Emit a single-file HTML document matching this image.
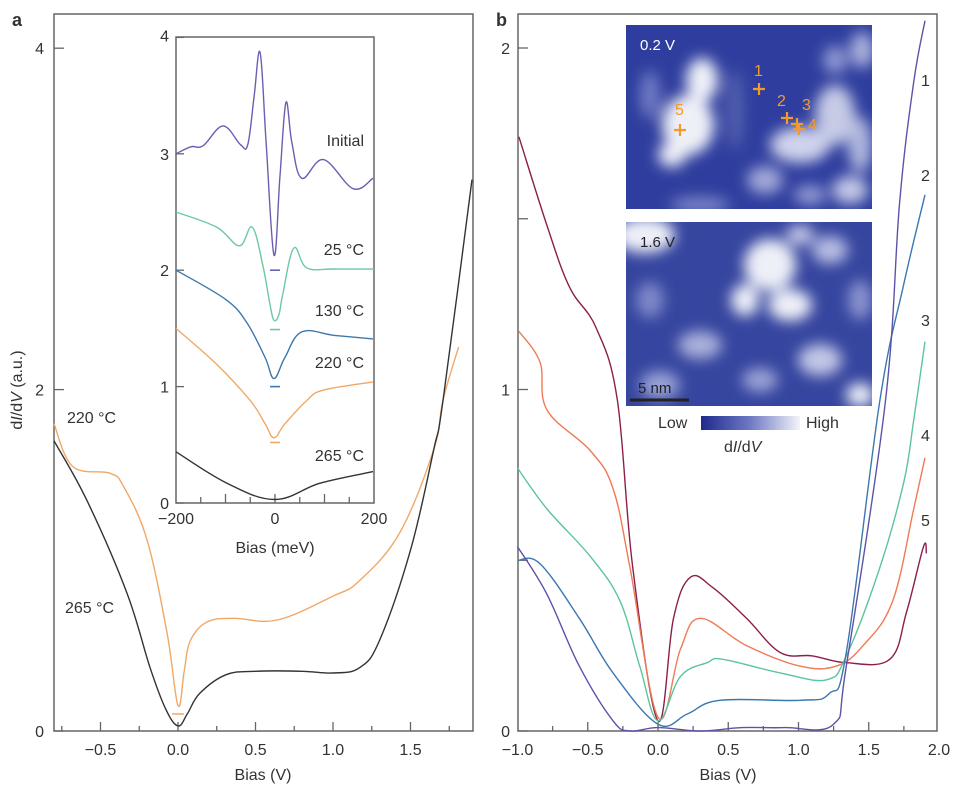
<!DOCTYPE html>
<html><head><meta charset="utf-8"><style>
body{margin:0;background:#fff}
svg text{font-family:"Liberation Sans",sans-serif;fill:#333}
</style></head><body>
<svg id="fig" width="960" height="801" viewBox="0 0 960 801">
<defs>
<filter id="bl" x="-50%" y="-50%" width="200%" height="200%"><feGaussianBlur stdDeviation="7"/></filter>
<linearGradient id="cb" x1="0" x2="1"><stop offset="0" stop-color="#1f2a8c"/><stop offset="0.5" stop-color="#6f7ac4"/><stop offset="1" stop-color="#f4f4fa"/></linearGradient>
<clipPath id="m1"><rect x="626" y="25" width="246" height="184"/></clipPath>
<clipPath id="m2"><rect x="626" y="222" width="246" height="184"/></clipPath>
</defs>
<text x="12" y="26" font-size="18" font-weight="bold">a</text>
<text x="496" y="26" font-size="18" font-weight="bold">b</text>
<g id="ga"></g><g id="gi"></g><g id="gb"></g>
<g clip-path="url(#m1)">
<rect x="626" y="25" width="246" height="184" fill="#2f3e9e"/>
<g filter="url(#bl)" fill="#eef0f8">
<ellipse cx="688" cy="125" rx="26" ry="30"/><ellipse cx="702" cy="80" rx="16" ry="22"/><ellipse cx="672" cy="155" rx="14" ry="12"/>
<ellipse cx="650" cy="95" rx="10" ry="24" fill="#6f7bc4"/>
<ellipse cx="800" cy="145" rx="30" ry="18" fill="#cfd3ec"/><ellipse cx="835" cy="115" rx="20" ry="30" fill="#c6cbe6"/><ellipse cx="860" cy="145" rx="12" ry="28" fill="#b0b7de"/>
<ellipse cx="862" cy="50" rx="12" ry="18" fill="#aab1dc"/><ellipse cx="835" cy="60" rx="12" ry="14" fill="#8f98d2"/>
<ellipse cx="765" cy="180" rx="18" ry="14" fill="#a0a8d8"/><ellipse cx="810" cy="195" rx="16" ry="10" fill="#8f98d2"/><ellipse cx="700" cy="205" rx="30" ry="8" fill="#7d87c9"/>
<ellipse cx="735" cy="110" rx="8" ry="40" fill="#5462b0"/><ellipse cx="850" cy="190" rx="18" ry="14" fill="#c2c7e6"/>
</g></g>
<g clip-path="url(#m2)">
<rect x="626" y="222" width="246" height="184" fill="#36459f"/>
<g filter="url(#bl)" fill="#eef0f8">
<ellipse cx="645" cy="235" rx="30" ry="18"/><ellipse cx="770" cy="265" rx="26" ry="26"/><ellipse cx="790" cy="305" rx="22" ry="16"/>
<ellipse cx="745" cy="300" rx="14" ry="16"/><ellipse cx="830" cy="250" rx="18" ry="14" fill="#b7bde2"/><ellipse cx="800" cy="235" rx="14" ry="10" fill="#c7cbe8"/>
<ellipse cx="700" cy="345" rx="22" ry="14" fill="#aab1dc"/><ellipse cx="820" cy="360" rx="22" ry="16" fill="#c2c7e6"/>
<ellipse cx="660" cy="385" rx="20" ry="14" fill="#9aa2d6"/><ellipse cx="860" cy="395" rx="14" ry="12"/><ellipse cx="760" cy="380" rx="18" ry="12" fill="#9aa2d6"/>
<ellipse cx="650" cy="300" rx="14" ry="18" fill="#7e88c9"/><ellipse cx="860" cy="300" rx="12" ry="20" fill="#8a93cf"/>
</g></g>
<text x="640" y="50" font-size="15" style="fill:#fff">0.2 V</text>
<text x="640" y="247" font-size="15" style="fill:#222">1.6 V</text>
<line x1="630" y1="400" x2="689" y2="400" stroke="#222" stroke-width="3"/>
<text x="638" y="393" font-size="15" style="fill:#222">5 nm</text>
<g id="marks"></g>
<rect x="701" y="416" width="99" height="14" fill="url(#cb)"/>
<text x="658" y="428" font-size="16">Low</text>
<text x="806" y="428" font-size="16">High</text>
<text x="724" y="452" font-size="16">d<tspan font-style="italic">I</tspan>/d<tspan font-style="italic">V</tspan></text>
<text transform="translate(22,390) rotate(-90)" text-anchor="middle" font-size="16">d<tspan font-style="italic">I</tspan>/d<tspan font-style="italic">V</tspan> (a.u.)</text>
</svg>
<script>
// ---- Panel a data ----
const aBlackV=[-0.8,-0.587,-0.33,-0.18,-0.08,0,0.06,0.14,0.31,0.5,0.8,1.0,1.17,1.30,1.50,1.65,1.71,1.897];
const aBlackY=[1.70,1.35,0.81,0.37,0.13,0.03,0.10,0.22,0.33,0.35,0.35,0.34,0.37,0.53,1.06,1.65,1.94,3.23];
const aOrangeV=[-0.8,-0.68,-0.44,-0.35,-0.2,-0.07,0,0.04,0.08,0.19,0.36,0.64,1.0,1.17,1.43,1.65,1.71,1.81];
const aOrangeY=[1.80,1.55,1.51,1.43,1.12,0.57,0.15,0.35,0.53,0.64,0.66,0.65,0.79,0.88,1.16,1.65,1.94,2.25];
// ---- Inset data (mV) ----
const iInitX=[-200,-170,-145,-105,-70,-55,-42,-30,-18,-2,10,22,34,54,98,158,198];
const iInitY=[3.0,3.06,3.07,3.24,3.08,3.08,3.5,3.87,3.1,2.13,2.8,3.44,3.1,2.79,2.95,2.70,2.79];
const i25X=[-200,-118,-72,-46,-24,-10,-2,8,16,38,64,120,200];
const i25Y=[2.50,2.37,2.21,2.37,2.03,1.7,1.57,1.62,1.80,2.19,2.02,2.01,2.01];
const i130X=[-200,-100,-57,-20,-2,20,54,120,198];
const i130Y=[2.0,1.75,1.55,1.25,1.07,1.25,1.47,1.44,1.41];
const i220X=[-200,-120,-50,-20,-2,20,64,98,198];
const i220Y=[1.50,1.2,0.88,0.68,0.56,0.68,0.88,0.97,1.04];
const i265X=[-200,-97,0,91,198];
const i265Y=[0.44,0.17,0.03,0.17,0.27];
const iMarkY=[2.0,1.49,1.0,0.52];
// ---- Panel b data ----
const b1V=[-1,-0.79,-0.56,-0.32,-0.2,0,0.3,0.6,0.9,1.25,1.34,1.62,1.72,1.82,1.90];
const b1Y=[0.54,0.40,0.19,0.03,0.0,0.01,0.0,0.01,0.01,0.02,0.19,0.97,1.55,1.90,2.08];
const b2V=[-1,-0.84,-0.56,-0.32,0,0.21,0.44,1.01,1.22,1.34,1.58,1.75,1.90];
const b2Y=[0.50,0.49,0.33,0.17,0.02,0.05,0.09,0.09,0.11,0.23,0.97,1.31,1.57];
const b3V=[-1,-0.79,-0.48,-0.27,-0.13,0,0.16,0.35,0.46,0.87,1.2,1.34,1.58,1.75,1.82,1.90];
const b3Y=[0.77,0.65,0.51,0.38,0.19,0.03,0.16,0.20,0.21,0.17,0.15,0.22,0.48,0.73,0.91,1.14];
const b4V=[-0.99,-0.84,-0.79,-0.48,-0.32,-0.2,0,0.16,0.3,0.63,1.01,1.27,1.46,1.67,1.82,1.90];
const b4Y=[1.17,1.08,0.94,0.82,0.71,0.48,0.04,0.24,0.33,0.25,0.19,0.19,0.25,0.38,0.65,0.80];
const b5V=[-0.99,-0.79,-0.63,-0.44,-0.29,-0.18,0,0.11,0.23,0.39,0.63,0.87,1.1,1.34,1.65,1.77,1.89,1.91];
const b5Y=[1.74,1.48,1.30,1.18,0.97,0.48,0.03,0.33,0.45,0.42,0.33,0.23,0.22,0.20,0.21,0.35,0.54,0.52];
const aXTicks=[-0.5,0.0,0.5,1.0,1.5];const aYTicks=[0,2,4];
const iXTicks=[-200,0,200];const iYTicks=[0,1,2,3,4];
const bXTicks=[-1.0,-0.5,0.0,0.5,1.0,1.5,2.0];const bYTicks=[0,1,2];
const curveLabels=["1","2","3","4","5"];

const NS="http://www.w3.org/2000/svg";
function mk(tag,attrs,parent){const e=document.createElementNS(NS,tag);for(const k in attrs)e.setAttribute(k,attrs[k]);parent.appendChild(e);return e;}
const ax=v=>178+v*155, ay=v=>731-v*170.7;
const ix=v=>275+v*0.495, iy=v=>503-v*116.4;
const bx=v=>658+v*140.5, by=v=>731-v*341.5;
function smooth(P){let d='M'+P[0][0].toFixed(1)+','+P[0][1].toFixed(1);const t=0.18;
for(let i=0;i<P.length-1;i++){const p0=P[Math.max(0,i-1)],p1=P[i],p2=P[i+1],p3=P[Math.min(P.length-1,i+2)];
const c1=[p1[0]+(p2[0]-p0[0])*t,p1[1]+(p2[1]-p0[1])*t],c2=[p2[0]-(p3[0]-p1[0])*t,p2[1]-(p3[1]-p1[1])*t];
d+=` C${c1[0].toFixed(1)},${c1[1].toFixed(1)} ${c2[0].toFixed(1)},${c2[1].toFixed(1)} ${p2[0].toFixed(1)},${p2[1].toFixed(1)}`;}return d;}
function line(g,X,Y,fx,fy,col,name,w){const P=X.map((x,i)=>[fx(x),fy(Y[i])]);
const p=mk('path',{d:smooth(P),fill:'none',stroke:col,'stroke-width':w||1.3,'stroke-linejoin':'round'},g);

}
function txt(g,x,y,s,name,anchor,size){const t=mk('text',{x:x,y:y,'font-size':size||16,'text-anchor':anchor||'start'},g);t.textContent=s;

return t;}
const fr='#666';
// Panel a
const ga=document.getElementById('ga');
const fa=mk('rect',{x:54,y:14,width:419,height:717,fill:'none',stroke:fr,'stroke-width':1.5},ga);


for(let v=-0.75;v<=1.9;v+=0.25){const t=mk('line',{x1:ax(v),x2:ax(v),y1:731,y2:Math.abs(v*2-Math.round(v*2))<0.01?722:726,stroke:fr,'stroke-width':1.3},ga);

}
aXTicks.forEach(v=>txt(ga,ax(v),755,(v<0?'\u2212':'')+Math.abs(v).toFixed(1),'panel-a-x-tick-label','middle'));
aYTicks.forEach(v=>{const t=mk('line',{x1:54,x2:64,y1:ay(v),y2:ay(v),stroke:fr,'stroke-width':1.3},ga);


txt(ga,44,ay(v)+6,String(v),'panel-a-y-tick-label','end');});
txt(ga,263,780,'Bias (V)','panel-a-x-axis-title','middle');
line(ga,aOrangeV,aOrangeY,ax,ay,'#f0a868','series-220C',1.4);
line(ga,aBlackV,aBlackY,ax,ay,'#333','series-265C',1.4);
const om=mk('line',{x1:172,x2:184,y1:714,y2:714,stroke:'#f0a868','stroke-width':1.5},ga);


txt(ga,67,423,'220 °C','label-220C');txt(ga,65,613,'265 °C','label-265C');
// Inset
const gi=document.getElementById('gi');
const fi=mk('rect',{x:176,y:37,width:198,height:466,fill:'#fff',stroke:fr,'stroke-width':1.5},gi);


[-150,-100,-50,0,50,100,150].forEach(v=>{const t=mk('line',{x1:ix(v),x2:ix(v),y1:503,y2:v%100===0?494:497,stroke:fr,'stroke-width':1.3},gi);

});
iXTicks.forEach(v=>txt(gi,ix(v),524,(v<0?'\u2212':'')+Math.abs(v),'inset-x-tick-label','middle'));
iYTicks.forEach(v=>{const t=mk('line',{x1:176,x2:184,y1:iy(v),y2:iy(v),stroke:fr,'stroke-width':1.3},gi);


txt(gi,169,iy(v)+(v===4?4:6),String(v),'inset-y-tick-label','end');});
txt(gi,275,553,'Bias (meV)','inset-x-axis-title','middle');
line(gi,iInitX,iInitY,ix,iy,'#6a5fb0','inset-initial',1.4);
line(gi,i25X,i25Y,ix,iy,'#6cc9a4','inset-25C',1.4);
line(gi,i130X,i130Y,ix,iy,'#3d78ac','inset-130C',1.4);
line(gi,i220X,i220Y,ix,iy,'#f0a868','inset-220C',1.4);
line(gi,i265X,i265Y,ix,iy,'#333','inset-265C',1.4);
const mc=['#6a5fb0','#6cc9a4','#3d78ac','#f0a868'];
iMarkY.forEach((v,i)=>{const m=mk('line',{x1:270,x2:280,y1:iy(v),y2:iy(v),stroke:mc[i],'stroke-width':1.6},gi);

});
txt(gi,364,146,'Initial','inset-label-initial','end');
txt(gi,364,255,'25 °C','inset-label-25C','end');
txt(gi,364,316,'130 °C','inset-label-130C','end');
txt(gi,364,368,'220 °C','inset-label-220C','end');
txt(gi,364,461,'265 °C','inset-label-265C','end');
// Panel b
const gb=document.getElementById('gb');
const fb=mk('rect',{x:518,y:14,width:419,height:717,fill:'none',stroke:fr,'stroke-width':1.5},gb);


for(let v=-0.75;v<2;v+=0.25){const t=mk('line',{x1:bx(v),x2:bx(v),y1:731,y2:Math.abs(v*2-Math.round(v*2))<0.01?722:726,stroke:fr,'stroke-width':1.3},gb);

}
bXTicks.forEach(v=>txt(gb,bx(v),755,(v<0?'\u2212':'')+Math.abs(v).toFixed(1),'panel-b-x-tick-label','middle'));
[0,0.5,1,1.5,2].forEach(v=>{const t=mk('line',{x1:518,x2:528,y1:by(v),y2:by(v),stroke:fr,'stroke-width':1.3},gb);

});
bYTicks.forEach(v=>txt(gb,510,by(v)+6,String(v),'panel-b-y-tick-label','end'));
txt(gb,728,780,'Bias (V)','panel-b-x-axis-title','middle');
line(gb,b5V,b5Y,bx,by,'#8c1f4c','curve-5',1.4);
line(gb,b4V,b4Y,bx,by,'#ef7a55','curve-4',1.4);
line(gb,b3V,b3Y,bx,by,'#5cc49c','curve-3',1.4);
line(gb,b2V,b2Y,bx,by,'#3a78b0','curve-2',1.4);
line(gb,b1V,b1Y,bx,by,'#5e52a8','curve-1',1.4);
const ly=[86,181,326,441,526];
curveLabels.forEach((s,i)=>txt(gb,921,ly[i],s,'curve-label-'+s));
// map markers
const gm=document.getElementById('marks');
const pts=[[759,89,'1',754,76],[787,118,'2',777,106],[797,124,'3',802,110],[799,129,'4',808,130],[680,130,'5',675,115]];
pts.forEach(p=>{const c=mk('path',{d:`M${p[0]-6},${p[1]}h12M${p[0]},${p[1]-6}v12`,stroke:'#f39a2a','stroke-width':2.2},gm);


const t=mk('text',{x:p[3],y:p[4],'font-size':16,style:'fill:#f39a2a'},gm);t.textContent=p[2];

});
</script>
</body></html>
